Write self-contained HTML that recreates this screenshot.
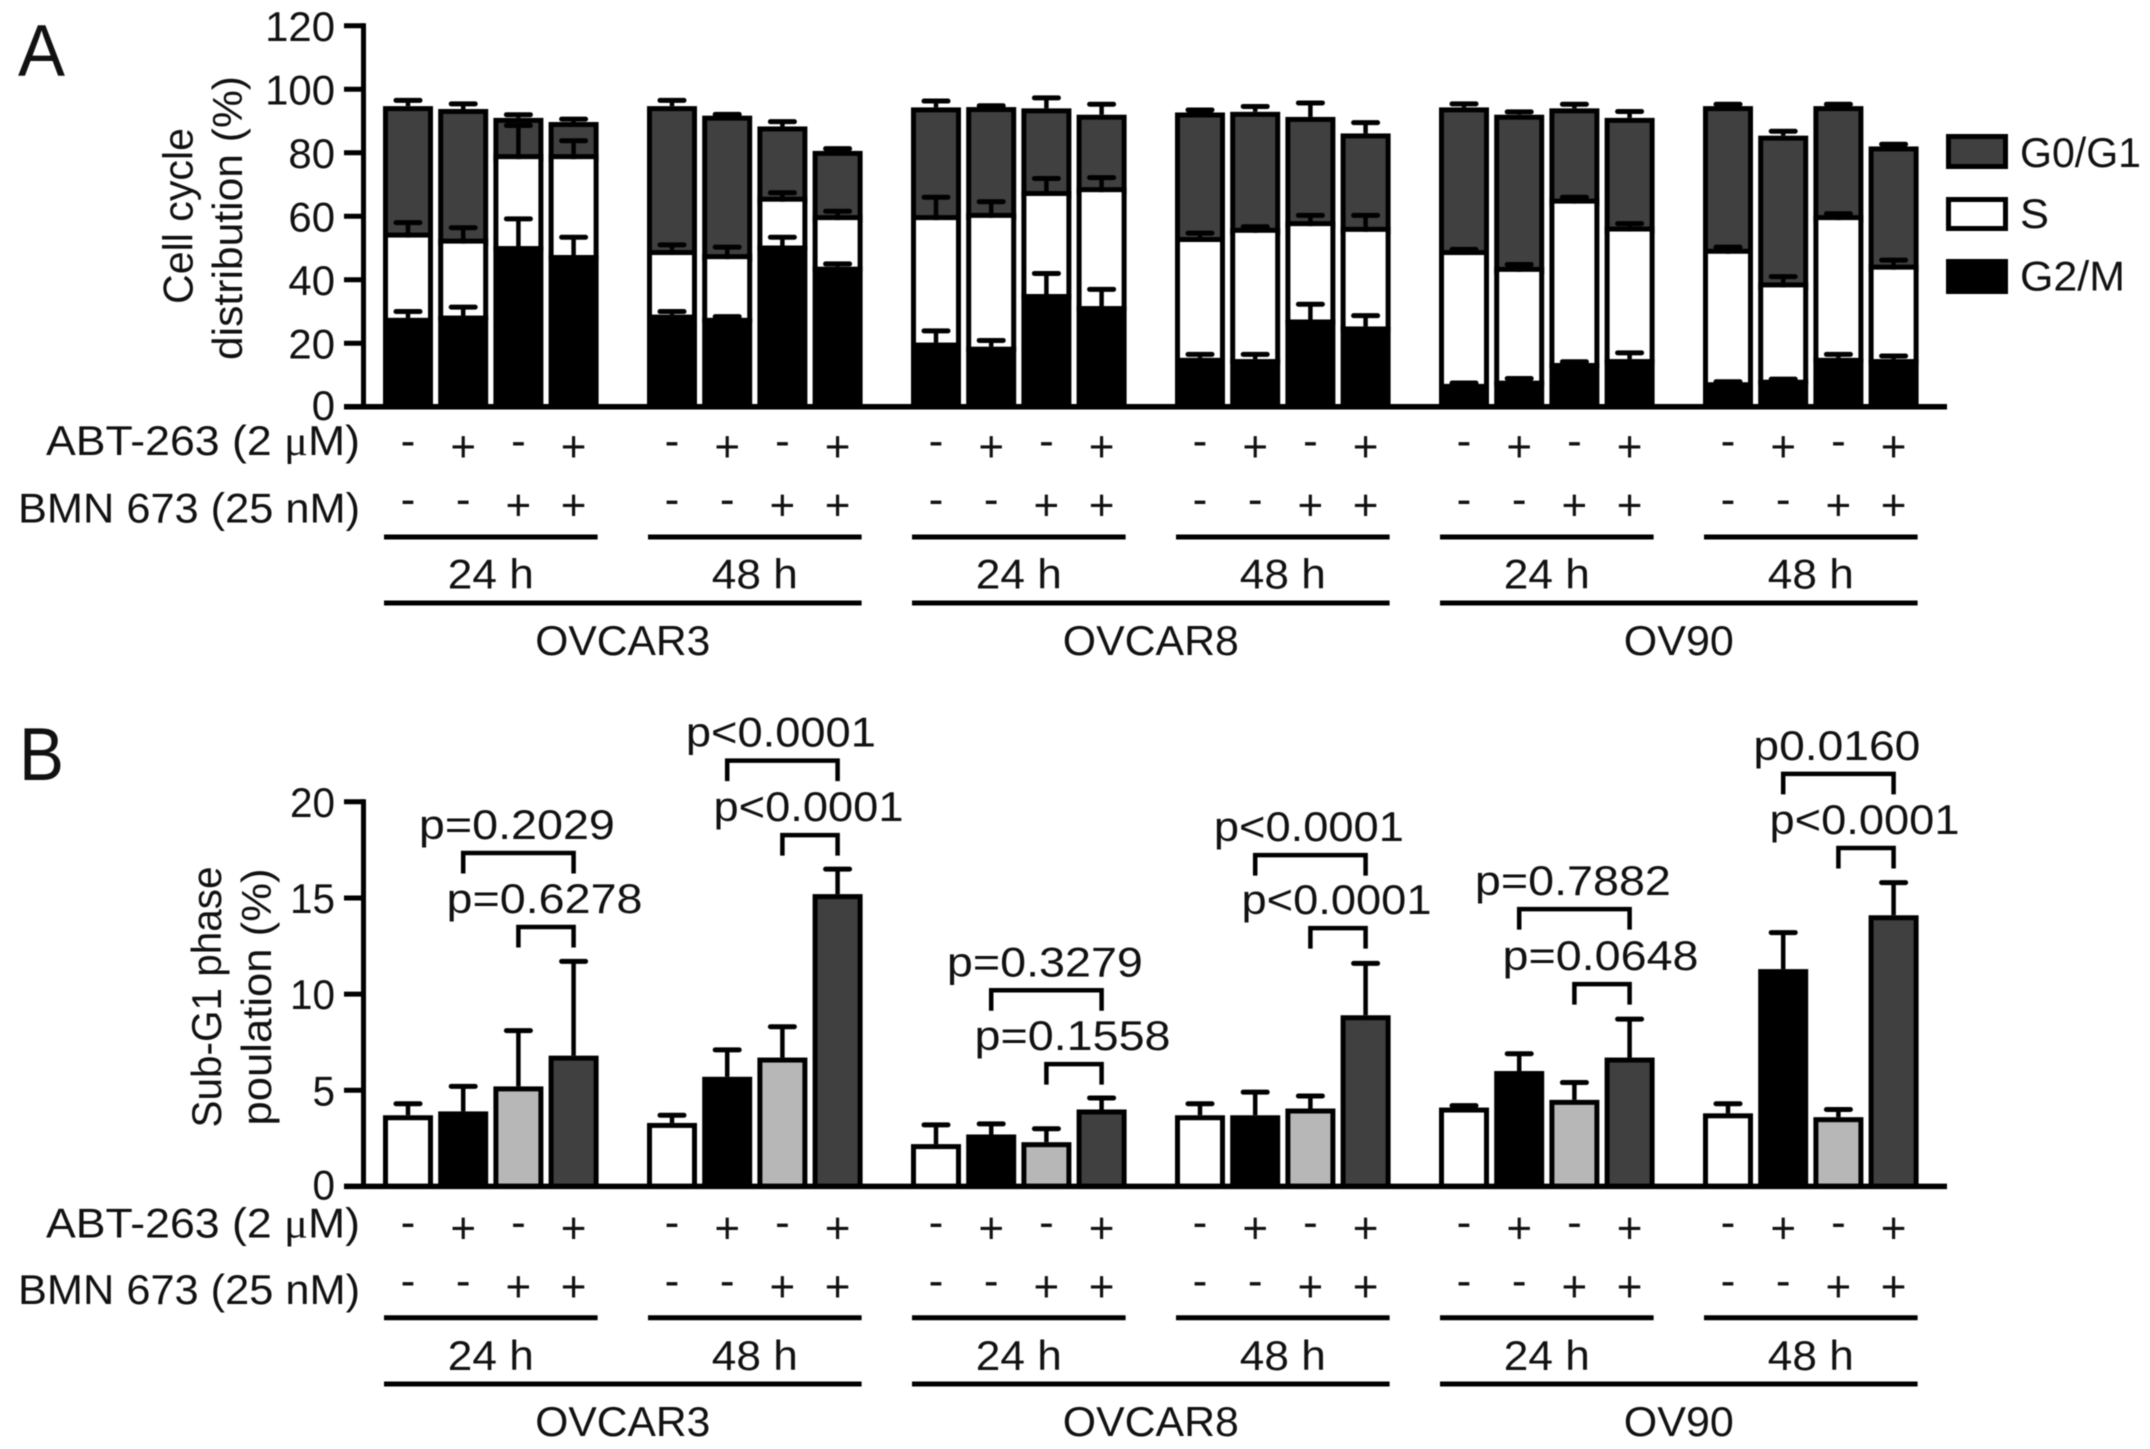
<!DOCTYPE html>
<html lang="en">
<head>
<meta charset="utf-8">
<title>Cell cycle distribution and Sub-G1 phase population</title>
<style>
html,body{margin:0;padding:0;background:#fff;}
svg{display:block;filter:blur(0.55px);}
text{font-family:"Liberation Sans",Arial,sans-serif;fill:#111;}
</style>
</head>
<body>
<svg id="figure" xmlns="http://www.w3.org/2000/svg" width="2150" height="1449" viewBox="0 0 2150 1449">
  <rect x="0" y="0" width="2150" height="1449" fill="#fff"/>

  <text x="18" y="76" font-size="73" textLength="47" lengthAdjust="spacingAndGlyphs">A</text>
  <text x="19" y="780" font-size="75" textLength="45" lengthAdjust="spacingAndGlyphs">B</text>

  <text transform="translate(192.5 216) rotate(-90)" text-anchor="middle" font-size="42" textLength="176" lengthAdjust="spacingAndGlyphs">Cell cycle</text>
  <text transform="translate(242 218) rotate(-90)" text-anchor="middle" font-size="42" textLength="284" lengthAdjust="spacingAndGlyphs">distribution (%)</text>
  <text transform="translate(221 997) rotate(-90)" text-anchor="middle" font-size="42" textLength="261" lengthAdjust="spacingAndGlyphs">Sub-G1 phase</text>
  <text transform="translate(271 997) rotate(-90)" text-anchor="middle" font-size="42" textLength="257" lengthAdjust="spacingAndGlyphs">poulation (%)</text>

  <text x="360" y="455" text-anchor="end" font-size="42" textLength="314" lengthAdjust="spacingAndGlyphs">ABT-263 (2 <tspan font-family="Liberation Serif">μ</tspan>M)</text>
  <text x="360" y="522.5" text-anchor="end" font-size="42" textLength="342" lengthAdjust="spacingAndGlyphs">BMN 673 (25 nM)</text>
  <text x="360" y="1237.5" text-anchor="end" font-size="42" textLength="314" lengthAdjust="spacingAndGlyphs">ABT-263 (2 <tspan font-family="Liberation Serif">μ</tspan>M)</text>
  <text x="360" y="1304" text-anchor="end" font-size="42" textLength="342" lengthAdjust="spacingAndGlyphs">BMN 673 (25 nM)</text>

  <g>
    <rect x="1948.5" y="136.5" width="57" height="30" fill="#404040" stroke="#000" stroke-width="5"/>
    <rect x="1948.5" y="199.5" width="57" height="29" fill="#fff" stroke="#000" stroke-width="5"/>
    <rect x="1948.5" y="261.5" width="57" height="30" fill="#000" stroke="#000" stroke-width="5"/>
    <text x="2020" y="167" font-size="42" textLength="121" lengthAdjust="spacingAndGlyphs">G0/G1</text>
    <text x="2020" y="228" font-size="42" textLength="29" lengthAdjust="spacingAndGlyphs">S</text>
    <text x="2020" y="290.5" font-size="42" textLength="105" lengthAdjust="spacingAndGlyphs">G2/M</text>
  </g>
</svg>

<script>
// ---- categories ----
const timeLabels = ['24 h', '48 h', '24 h', '48 h', '24 h', '48 h'];
const cellLines = ['OVCAR3', 'OVCAR8', 'OV90'];
const abtSigns = ['-', '+', '-', '+'];
const bmnSigns = ['-', '-', '+', '+'];

// ---- panel A ticks ----
const ticksA = [0, 20, 40, 60, 80, 100, 120];

// ---- panel A series (%), one value per bar ----
const g2mValues = [28, 28.7, 50.6, 47.8, 29, 28, 50.8, 44.1, 20.2, 18.9, 35.5, 31.7, 15.4, 15, 27.5, 25.3, 7.2, 8.2, 13.8, 15, 7.7, 8.5, 15.4, 15];
const sValues = [25.3, 22.7, 27.4, 30.2, 18.8, 18.5, 13.8, 14.7, 38.6, 40.6, 30.9, 35.9, 36.5, 39.8, 29.4, 29.8, 40.6, 34.3, 50.2, 40.2, 40.5, 29.1, 43.4, 28.2];
const g0g1Values = [41.4, 42.4, 13, 11.7, 46.9, 45.2, 23.7, 21.8, 35.5, 34.9, 27.6, 24.4, 40.8, 38.1, 34.4, 31, 46.5, 49.5, 30, 35.8, 46.5, 47.8, 35.9, 38.8];
const g2mErrors = [2, 2.7, 8.6, 5.6, 1, 0.4, 2.6, 0.9, 3.7, 2, 6.5, 5.3, 1.1, 1.5, 4.8, 3.4, 0.3, 0.7, 0.4, 2, 0.2, 0.2, 1.1, 1];
const sErrors = [4.7, 5, 10.6, 5.8, 3.2, 3.8, 2.8, 2.8, 7.2, 5.1, 5.5, 4.6, 2.8, 1.9, 3.4, 5.2, 1.8, 2.3, 2, 2.5, 2.1, 3.4, 2, 3];
const g0g1Errors = [1.8, 1.6, 1, 0.9, 1.8, 0.4, 1.5, 0.7, 2, 0.4, 3.3, 3.3, 0.8, 1.7, 4.4, 3.4, 1.1, 0.9, 1.3, 2, 0.6, 1.4, 0.6, 0.7];

// ---- panel B ticks and series (%) ----
const ticksB = [0, 5, 10, 15, 20];
const subG1Values = [3.7, 3.9, 5.2, 6.8, 3.3, 5.7, 6.7, 15.2, 2.2, 2.7, 2.3, 4, 3.7, 3.7, 4.05, 8.9, 4.1, 6, 4.5, 6.7, 3.8, 11.3, 3.6, 14.1];
const subG1Errors = [0.6, 1.3, 2.9, 4.9, 0.4, 1.4, 1.6, 1.3, 1, 0.55, 0.7, 0.6, 0.6, 1.2, 0.65, 2.7, 0.1, 0.9, 0.9, 2, 0.5, 1.9, 0.4, 1.7];
const subG1Fills = ['#fff', '#000', '#b7b7b7', '#404040'];

// ---- panel B significance annotations ----
const pLabels = ['p=0.2029', 'p=0.6278', 'p<0.0001', 'p<0.0001', 'p=0.3279', 'p=0.1558', 'p<0.0001', 'p<0.0001', 'p=0.7882', 'p=0.0648', 'p0.0160', 'p<0.0001'];
const pLevels = [17.34, 13.49, 22.14, 18.27, 10.2, 6.36, 17.23, 13.43, 14.42, 10.52, 21.45, 17.6];
const pGroups = [0, 0, 1, 1, 2, 2, 3, 3, 4, 4, 5, 5];
const pFromBars = [1, 2, 1, 2, 1, 2, 1, 2, 1, 2, 1, 2];

// ---- axis functions ----
const NS = 'http://www.w3.org/2000/svg';
const svg = document.getElementById('figure');
const groupX = g => 384 + 264 * g;
const barX = i => groupX(Math.floor(i / 4)) + (i % 4) * 55.2;
const BAR_W = 48;
const STROKE = 5;
const yA = v => 406.8 - v * 3.175;
const yB = v => 1186.4 - v * 19.23;

function el(tag, attrs, parent) {
  const e = document.createElementNS(NS, tag);
  for (const k in attrs) e.setAttribute(k, attrs[k]);
  (parent || svg).appendChild(e);
  return e;
}
function line(x1, y1, x2, y2, w, parent) {
  return el('line', { x1: x1, y1: y1, x2: x2, y2: y2, stroke: '#000', 'stroke-width': w }, parent);
}
function label(x, y, str, size, anchor, len, parent) {
  const t = el('text', { x: x, y: y, 'font-size': size, 'text-anchor': anchor }, parent);
  if (len) {
    t.setAttribute('textLength', len);
    t.setAttribute('lengthAdjust', 'spacingAndGlyphs');
  }
  t.textContent = str;
  return t;
}
function errorBar(i, top, err, yFn, parent, name) {
  const cx = barX(i) + BAR_W / 2;
  const g = el('g', {}, parent);
  
  
  line(cx, yFn(top), cx, yFn(top + err), 4.5, g);
  const cap = line(cx - 12, yFn(top + err), cx + 12, yFn(top + err), 5, g);
  cap.setAttribute('stroke-linecap', 'round');
}
function barRect(i, y0, y1, fill, parent) {
  return el('rect', {
    x: barX(i) - 1 + STROKE / 2,
    y: y0,
    width: BAR_W + 2 - STROKE,
    height: Math.max(y1 - y0, 0),
    fill: fill,
    stroke: '#000',
    'stroke-width': STROKE
  }, parent);
}

// ---- axes ----
function drawAxes(ticks, yFn, panel, charW) {
  const g = el('g', {});
  
  
  const yLine = line(363.5, yFn(ticks[ticks.length - 1]) - 2.5, 363.5, yFn(0) + 2.5, 5, g);
  
  
  const xLine = line(344, yFn(0), 1947, yFn(0), 5.5, g);
  
  
  ticks.forEach(v => {
    const tick = line(344, yFn(v), 364, yFn(v), 5, g);
    
    
    const s = String(v);
    const off = v === 0 ? 13 : 15;
    const t = label(335, yFn(v) + off, s, 42, 'end', s.length * charW, g);
    
    
  });
}

// ---- treatment rows and group labels ----
function drawTreatments(panel, row1, row2, lineY, timeY, line2Y, cellY) {
  const g = el('g', {});
  
  
  for (let i = 0; i < 24; i++) {
    const cx = barX(i) + BAR_W / 2;
    [[abtSigns, row1, 'abt-263'], [bmnSigns, row2, 'bmn-673']].forEach(r => {
      const sign = r[0][i % 4];
      const t = label(cx, r[1] + (sign === '+' ? 15 : 9), sign, 44, 'middle', null, g);
      
      
    });
  }
  timeLabels.forEach((s, k) => {
    const x0 = groupX(k);
    const x1 = x0 + 3 * 55.2 + BAR_W;
    const l = line(x0, lineY, x1, lineY, 5, g);
    
    
    const t = label((x0 + x1) / 2, timeY, s, 42, 'middle', 86, g);
    
    
  });
  const cellWidths = [175, 176, 110];
  cellLines.forEach((s, k) => {
    const x0 = groupX(k * 2);
    const x1 = groupX(k * 2 + 1) + 3 * 55.2 + BAR_W;
    const l = line(x0, line2Y, x1, line2Y, 5, g);
    
    
    const t = label((x0 + x1) / 2, cellY, s, 42, 'middle', cellWidths[k], g);
    
    
  });
}

// ---- panel A stacked bars ----
const gA = el('g', {});


g2mValues.forEach((v, i) => {
  const sTop = v + sValues[i];
  const total = sTop + g0g1Values[i];
  const rG0 = barRect(i, yA(total) + STROKE / 2, yA(sTop), '#404040', gA);
  
  
  const rS = barRect(i, yA(sTop) - STROKE / 2, yA(v) + STROKE / 2, '#fff', gA);
  
  
  const rM = barRect(i, yA(v) + STROKE / 2, yA(0), '#000', gA);
  
  
});
g2mValues.forEach((v, i) => {
  errorBar(i, v, g2mErrors[i], yA, gA, 'error-bar-g2-m');
  errorBar(i, v + sValues[i], sErrors[i], yA, gA, 'error-bar-s');
  errorBar(i, v + sValues[i] + g0g1Values[i], g0g1Errors[i], yA, gA, 'error-bar-g0-g1');
});
drawAxes(ticksA, yA, 'panel-a', 23.3);
drawTreatments('panel-a', 446.7, 505, 537, 588.5, 603, 655);

// ---- panel B bars ----
const gB = el('g', {});


subG1Values.forEach((v, i) => {
  errorBar(i, v, subG1Errors[i], yB, gB, 'error-bar-sub-g1');
  const r = barRect(i, yB(v) + STROKE / 2, yB(0), subG1Fills[i % 4], gB);
  
  
});
drawAxes(ticksB, yB, 'panel-b', 22.5);
drawTreatments('panel-b', 1228, 1286.7, 1317.8, 1370, 1384, 1436);

// ---- panel B significance brackets ----
pLabels.forEach((s, k) => {
  const g = el('g', {});
  
  
  const i0 = pGroups[k] * 4 + pFromBars[k];
  const i1 = pGroups[k] * 4 + 3;
  const x0 = barX(i0) + BAR_W / 2;
  const x1 = barX(i1) + BAR_W / 2;
  const y = yB(pLevels[k]);
  el('path', {
    d: 'M' + x0 + ' ' + (y + 20.5) + 'V' + y + 'H' + x1 + 'V' + (y + 20.5),
    fill: 'none',
    stroke: '#000',
    'stroke-width': 4.5
  }, g);
  const w = s.charAt(1) === '=' ? 196 : (s.charAt(1) === '<' ? 190 : 167);
  const t = label((x0 + x1) / 2 - 1.5, y - 14, s, 42, 'middle', w, g);
  
  
});
</script>
</body>
</html>
